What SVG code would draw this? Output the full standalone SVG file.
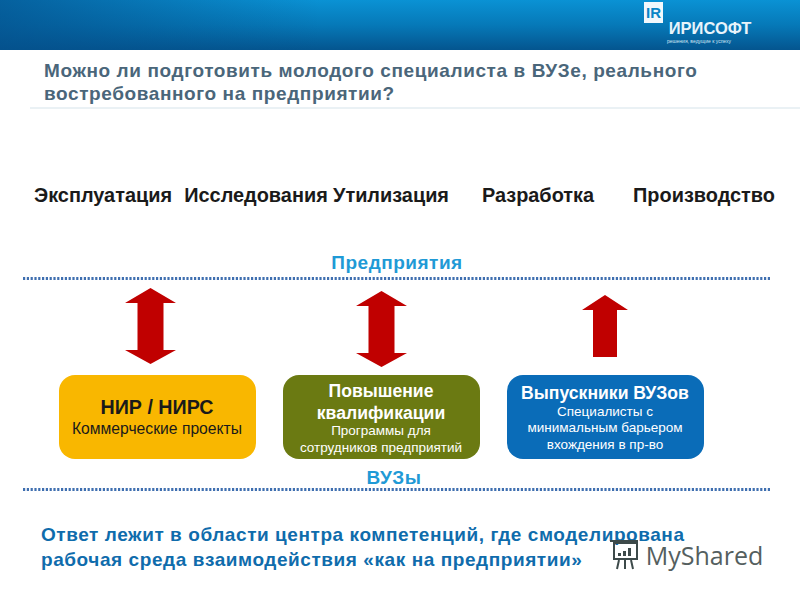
<svg xmlns="http://www.w3.org/2000/svg" width="800" height="600" viewBox="0 0 800 600">
<defs>
<linearGradient id="hdr" x1="0" y1="0" x2="0" y2="1"><stop offset="0" stop-color="#0a92d4"/><stop offset="0.5" stop-color="#0679b8"/><stop offset="1" stop-color="#04558f"/></linearGradient>
<linearGradient id="hdrH" x1="0" y1="0" x2="1" y2="0"><stop offset="0" stop-color="#04508c" stop-opacity="0.75"/><stop offset="0.4" stop-color="#04508c" stop-opacity="0"/></linearGradient>
<polygon id="dbl" points="0,-38 25.500,-23 13,-23 13,24 25.500,24 0,38 -25.500,24 -13,24 -13,-23 -25.500,-23"/>
</defs>
<style>
text{font-family:"Liberation Sans",Arial,sans-serif;text-anchor:middle}
.q{font-size:19px;font-weight:bold;fill:#4a667a;text-anchor:start;letter-spacing:.6px}
.s{font-size:19.900px;font-weight:bold;fill:#1a1a1a}
.b{font-size:19px;font-weight:bold;fill:#1f9ad6;letter-spacing:.5px}
.a{font-size:19px;font-weight:bold;fill:#0f6cac;text-anchor:start;letter-spacing:.57px}
.dot{stroke:#3f6fb0;stroke-width:3;stroke-dasharray:2.2 1.6;fill:none}
.arr{fill:#c00000}
.t{font-size:17.600px;font-weight:bold;fill:#fff}
.d{font-size:13.500px;fill:#fff}
</style>
<rect width="800" height="600" fill="#fff"/>
<g id="header">
<rect width="800" height="50" fill="url(#hdr)"/>
<rect width="800" height="50" fill="url(#hdrH)"/>
</g>
<g id="logo">
<rect x="644" y="2" width="19" height="21" fill="#f2f8fc"/>
<text x="653.500" y="18" style="font-size:15px;font-weight:bold;fill:#0a85c6">IR</text>
<text x="710" y="34" style="font-size:16.500px;font-weight:bold;fill:#e8f4fb">ИРИСОФТ</text>
<text x="699" y="43" style="font-size:5px;fill:#cfe6f4">решения, ведущие к успеху</text>
</g>
<g id="title">
<text class="q" x="44" y="77">Можно ли подготовить молодого специалиста в ВУЗе, реального</text>
<text class="q" x="44" y="100">востребованного на предприятии?</text>
<line x1="30" y1="108" x2="800" y2="108" stroke="#d5e3ea" stroke-width="1"/>
</g>
<g id="stages">
<text class="s" x="103" y="202">Эксплуатация</text>
<text class="s" x="256" y="202">Исследования</text>
<text class="s" x="391" y="202">Утилизация</text>
<text class="s" x="538" y="202">Разработка</text>
<text class="s" x="704" y="202">Производство</text>
</g>
<g id="enterprises">
<text class="b" x="397" y="269">Предприятия</text>
<line class="dot" x1="23" y1="278.500" x2="771" y2="278.500"/>
</g>
<g id="connectors">
<use href="#dbl" class="arr" x="150.500" y="326"/>
<use href="#dbl" class="arr" x="381.500" y="329"/>
<polygon class="arr" points="605,295 628,310 617,310 617,357 593,357 593,310 582,310"/>
</g>
<g id="node-nir">
<rect x="59" y="375" width="197" height="84" rx="16" fill="#f9b700"/>
<text x="157" y="414" style="font-size:19.700px;font-weight:bold;fill:#1a1a1a">НИР / НИРС</text>
<text x="157" y="434" style="font-size:15.700px;fill:#1a1a1a">Коммерческие проекты</text>
</g>
<g id="node-qual">
<rect x="283" y="375" width="197" height="84" rx="16" fill="#6b7a12"/>
<text class="t" x="381" y="397">Повышение</text>
<text class="t" x="381" y="419">квалификации</text>
<text class="d" x="381" y="435">Программы для</text>
<text class="d" x="381" y="452">сотрудников предприятий</text>
</g>
<g id="node-grad">
<rect x="507" y="375" width="197" height="84" rx="16" fill="#0a6cb8"/>
<text class="t" x="605" y="399">Выпускники ВУЗов</text>
<text class="d" x="605" y="416">Специалисты с</text>
<text class="d" x="605" y="432">минимальным барьером</text>
<text class="d" x="605" y="449">вхождения в пр-во</text>
</g>
<g id="universities">
<text class="b" x="394" y="484">ВУЗы</text>
<line class="dot" x1="23" y1="489.500" x2="771" y2="489.500"/>
</g>
<g id="answer">
<text class="a" x="41" y="541">Ответ лежит в области центра компетенций, где смоделирована</text>
<text class="a" x="41" y="566">рабочая среда взаимодействия «как на предприятии»</text>
</g>
<g id="watermark">
<g fill="none" stroke="#3d4a4a" stroke-width="2">
<rect x="614" y="543" width="23" height="16"/>
<path d="M610 541h28M619 560l-2 9M625 560v9M631 560l2 9"/>
</g>
<g fill="#3d4a4a"><rect x="618" y="553" width="3" height="3"/><rect x="623" y="551" width="3" height="5"/><rect x="628" y="548" width="3" height="8"/></g>
<text x="704.500" y="565" style="font-size:25px;fill:#555f5f;font-family:'Open Sans',sans-serif">MyShared</text>
</g>
</svg>
